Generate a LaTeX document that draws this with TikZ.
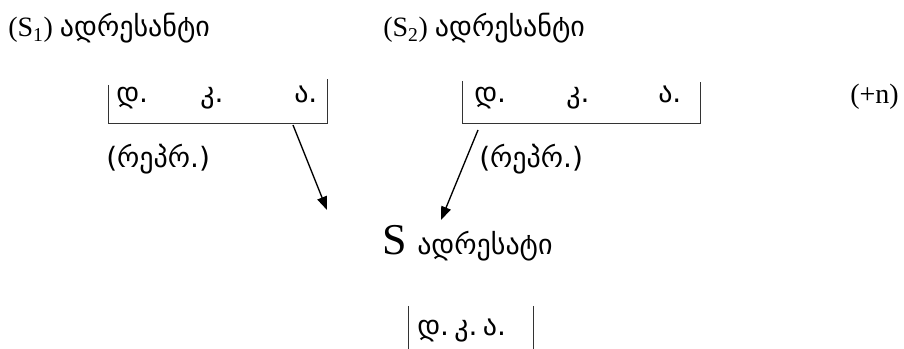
\documentclass[tikz,border=0pt]{standalone}
\usepackage{fontspec}
\setmainfont{Liberation Serif}
\newfontfamily\geo{DejaVu Sans}[Scale=1.0]
\usetikzlibrary{arrows.meta, positioning}

\begin{document}
\begin{tikzpicture}[x=0.75pt, y=-0.75pt,
    lbl/.style={inner sep=0pt, anchor=base west, font=\fontsize{21}{24}\selectfont},
    bracket/.style={draw=black!80, line width=0.6pt},
    pointer/.style={line width=1pt, -{Triangle[length=10pt, width=7.5pt]}}]
    \useasboundingbox (0,0) rectangle (904,349);

    % senders
    \node[lbl] (snd1) at (8,37) {(S\textsubscript{1}) {\geo ადრესანტი}};
    \node[lbl] (snd2) at (383,37) {(S\textsubscript{2}) {\geo ადრესანტი}};

    % first sender's fields
    \node[lbl] (d1) at (116,103) {\geo დ.};
    \node[lbl] (k1) at (200,103) {\geo კ.};
    \node[lbl] (a1) at (294,103) {\geo ა.};
    \draw[bracket] (108,85) -- (108,123) -- (327,123) -- (327,79);

    % second sender's fields
    \node[lbl] (d2) at (474,103) {\geo დ.};
    \node[lbl] (k2) at (566,103) {\geo კ.};
    \node[lbl] (a2) at (658,103) {\geo ა.};
    \draw[bracket] (462,81) -- (462,123) -- (700,123) -- (700,82);

    \node[lbl] (more) at (850,104) {(+n)};

    \node[lbl] (rep1) at (106,168) {\geo (რეპრ.)};
    \node[lbl] (rep2) at (479,168) {\geo (რეპრ.)};

    % receiver
    \node[lbl, font=\fontsize{33}{36}\selectfont] (big) at (382,255) {S};
    \node[lbl] (rcv) at (417,255) {\geo ადრესატი};

    \node[lbl] (d3) at (417,335) {\geo დ.\hspace{4pt}კ.\hspace{4pt}ა.};
    \draw[bracket] (408,306) -- (408,349);
    \draw[bracket] (533,306) -- (533,349);

    % arrows
    \coordinate (from1) at (293,125);
    \coordinate (to1) at (327,210);
    \coordinate (from2) at (478,130);
    \coordinate (to2) at (441,220);
    \draw[pointer] (from1) -- (to1);
    \draw[pointer] (from2) -- (to2);
\end{tikzpicture}
\end{document}
